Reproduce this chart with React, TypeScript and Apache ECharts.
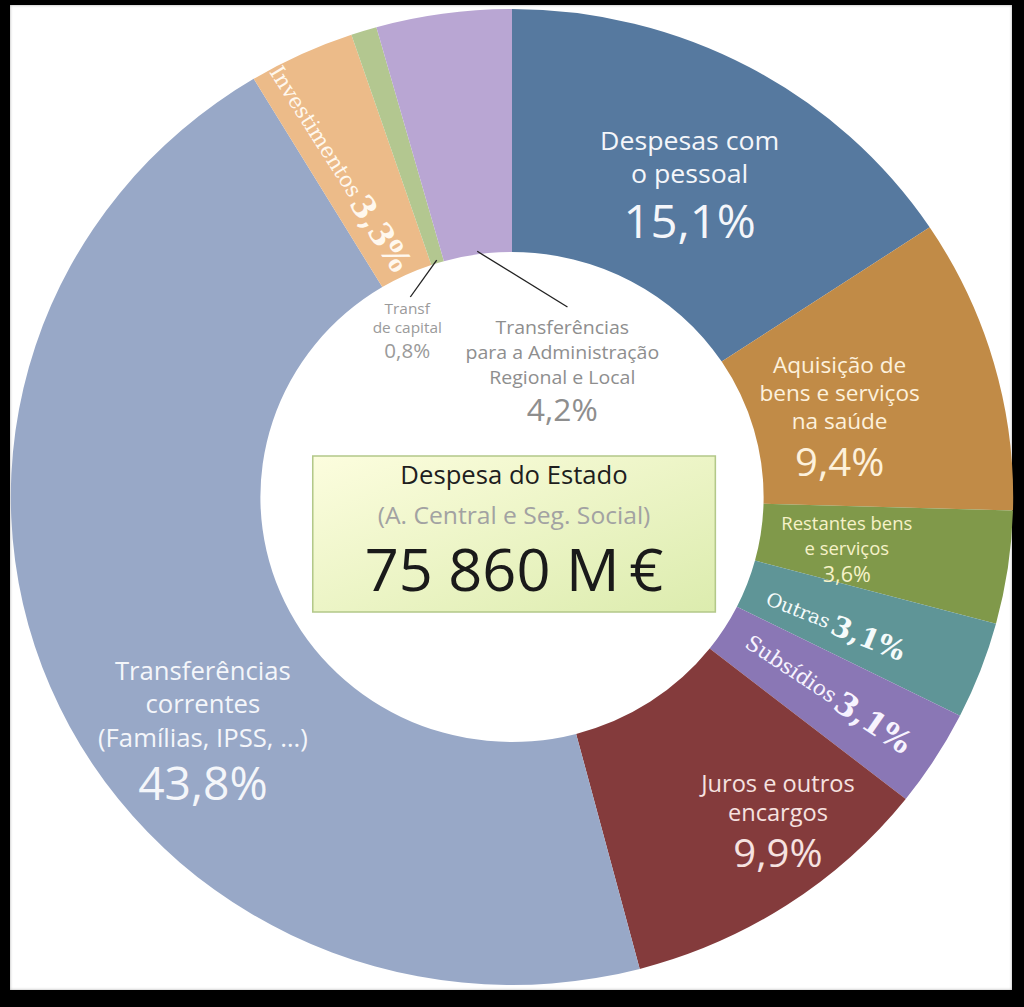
import React, { useEffect, useRef } from "react";
import * as echarts from "echarts";

// ---------- data ----------
const categories = [
  "Despesas com o pessoal",
  "Aquisição de bens e serviços na saúde",
  "Restantes bens e serviços",
  "Outras",
  "Subsídios",
  "Juros e outros encargos",
  "Transferências correntes (Famílias, IPSS, …)",
  "Investimentos",
  "Transf de capital",
  "Transferências para a Administração Regional e Local",
];
const shares = [15.1, 9.4, 3.6, 3.1, 3.1, 9.9, 43.8, 3.3, 0.8, 4.2];
const shareLabels = ["15,1%", "9,4%", "3,6%", "3,1%", "3,1%", "9,9%", "43,8%", "3,3%", "0,8%", "4,2%"];
const nameLines = [
  ["Despesas com", "o pessoal"],
  ["Aquisição de", "bens e serviços", "na saúde"],
  ["Restantes bens", "e serviços"],
  ["Outras"],
  ["Subsídios"],
  ["Juros e outros", "encargos"],
  ["Transferências", "correntes", "(Famílias, IPSS, …)"],
  ["Investimentos"],
  ["Transf", "de capital"],
  ["Transferências", "para a Administração", "Regional e Local"],
];
const totalTitle = "Despesa do Estado";
const totalSubtitle = "(A. Central e Seg. Social)";
const totalValue = "75 860 M\u2009€";

// ---------- styles / layout ----------
const COLORS = ["#56799f", "#c18b47", "#80994a", "#5f9597", "#8a77b5", "#843b3c", "#98a8c7", "#ecbb89", "#b3c790", "#b9a6d3"];
const SANS = "'Open Sans', 'Noto Sans', sans-serif";
const SERIF = "'DejaVu Serif', 'Liberation Serif', serif";
const CX = 512;
const CY = 497;
const R0 = 245;
const R1 = 488;
const STRETCH = 1.027;

// label anchor positions (chart space)
const LABEL_POS: number[][] = [
  [685, 187], [831, 419], [838, 549], [827, 625], [820, 693],
  [771, 823.5], [211, 731.75], [344, 168], [410, 331], [561, 371.5],
];
const LABEL_ROT = [0, 0, 0, -22, -34, 0, 0, -58, 0, 0];
// leader line end points for the two labels placed in the hole
const LEADER_END: Record<number, number[]> = { 8: [413, 297], 9: [566, 307] };

type LabelStyle = { kind: "big" | "small" | "rot" | "hole"; color: string; nSize: number; nLH: number; pSize: number; pLH: number };
const LABEL_STYLE: LabelStyle[] = [
  { kind: "big", color: "#f4f6fa", nSize: 26, nLH: 33, pSize: 46, pLH: 61 },
  { kind: "big", color: "#fdf1dc", nSize: 22, nLH: 28, pSize: 39, pLH: 52 },
  { kind: "small", color: "#f6f2c8", nSize: 18, nLH: 25, pSize: 21, pLH: 27 },
  { kind: "rot", color: "#f5fbfb", nSize: 19, nLH: 32, pSize: 28, pLH: 32 },
  { kind: "rot", color: "#f7f3ff", nSize: 21, nLH: 36, pSize: 31, pLH: 36 },
  { kind: "big", color: "#f6e2e0", nSize: 23, nLH: 29, pSize: 39, pLH: 52 },
  { kind: "big", color: "#f4f6fa", nSize: 25, nLH: 33.5, pSize: 45, pLH: 56.5 },
  { kind: "rot", color: "#fff8ee", nSize: 21, nLH: 36, pSize: 31, pLH: 36 },
  { kind: "hole", color: "#9a9a9a", nSize: 15, nLH: 19, pSize: 20, pLH: 27 },
  { kind: "hole", color: "#8e8e8e", nSize: 19, nLH: 25, pSize: 31, pLH: 39 },
];

function labelConfig(i: number) {
  const s = LABEL_STYLE[i];
  const rot = s.kind === "rot";
  const text = rot
    ? `{n|${nameLines[i][0]}} {p|${shareLabels[i]}}`
    : nameLines[i].map((l) => `{n|${l}}`).join("\n") + `\n{p|${shareLabels[i]}}`;
  return {
    show: true,
    position: "inside",
    formatter: () => text,
    rotate: LABEL_ROT[i],
    rich: {
      n: {
        fontFamily: rot ? SERIF : SANS,
        fontSize: s.nSize,
        lineHeight: s.nLH,
        color: s.color,
        align: "center",
      },
      p: {
        fontFamily: rot ? SERIF : SANS,
        fontWeight: rot ? "bold" : "normal",
        fontSize: s.pSize,
        lineHeight: s.pLH,
        color: s.color,
        align: "center",
      },
    },
  };
}

export default function App() {
  const ref = useRef<HTMLDivElement>(null);

  useEffect(() => {
    if (!ref.current) return;
    const chart = echarts.init(ref.current, null, { renderer: "svg" });
    const total = shares.reduce((a, b) => a + b, 0);

    const leaders: any[] = [];
    Object.keys(LEADER_END).forEach((k) => {
      const i = Number(k);
      const before = shares.slice(0, i).reduce((a, b) => a + b, 0);
      const mid = ((90 - ((before + shares[i] / 2) / total) * 360) * Math.PI) / 180;
      const sx = CX + (R0 + 3) * Math.cos(mid);
      const sy = CY - (R0 + 3) * Math.sin(mid);
      const [ex, ey] = LEADER_END[i];
      leaders.push({
        type: "line",
        shape: { x1: sx, y1: sy, x2: ex, y2: ey },
        style: { stroke: "#222", lineWidth: 1.3 },
        z: 10,
      });
    });

    chart.setOption({
      animation: false,
      backgroundColor: "transparent",
      series: [
        {
          type: "pie",
          center: [CX, CY],
          radius: [R0, R1],
          startAngle: 90,
          clockwise: true,
          silent: true,
          avoidLabelOverlap: false,
          itemStyle: { borderWidth: 0 },
          labelLine: { show: false },
          labelLayout: (params: any) => {
            const i = params.dataIndex;
            return { x: LABEL_POS[i][0], y: LABEL_POS[i][1], rotate: LABEL_ROT[i] };
          },
          data: categories.map((name, i) => ({
            name,
            value: shares[i],
            itemStyle: { color: COLORS[i] },
            label: labelConfig(i),
          })),
        },
      ],
      graphic: [
        ...leaders,
        {
          type: "rect",
          shape: { x: 318, y: 456, width: 392, height: 156 },
          style: {
            fill: new echarts.graphic.LinearGradient(0, 0, 1, 1, [
              { offset: 0, color: "#fcfdde" },
              { offset: 1, color: "#dcecae" },
            ]),
            stroke: "#b3c889",
            lineWidth: 1.5,
          },
          z: 5,
        },
        {
          type: "text",
          x: 514,
          y: 474,
          style: { text: totalTitle, fontFamily: SANS, fontSize: 25, fill: "#1e1e1e", align: "center", verticalAlign: "middle" },
          z: 6,
        },
        {
          type: "text",
          x: 514,
          y: 515,
          style: { text: totalSubtitle, fontFamily: SANS, fontSize: 24, fill: "#a2a2a2", align: "center", verticalAlign: "middle" },
          z: 6,
        },
        {
          type: "text",
          x: 514,
          y: 568,
          style: { text: totalValue, fontFamily: SANS, fontSize: 58, fill: "#1a1a1a", align: "center", verticalAlign: "middle" },
          z: 6,
        },
      ],
    });
    return () => chart.dispose();
  }, []);

  return (
    <div
      style={{
        position: "fixed",
        left: 0,
        top: 0,
        width: 1024,
        height: 1007,
        background: "#000",
        overflow: "hidden",
      }}
    >
      <div
        style={{
          position: "absolute",
          left: 10,
          top: 5,
          width: 1002,
          height: 985,
          background: "#fff",
          boxShadow: "inset 0 0 3px rgba(0,0,0,0.35)",
        }}
      />
      <div
        ref={ref}
        style={{
          position: "absolute",
          left: 0,
          top: 0,
          width: 1024,
          height: 1007,
          transform: `scaleX(${STRETCH})`,
          transformOrigin: "512px 0px",
        }}
      />
    </div>
  );
}
